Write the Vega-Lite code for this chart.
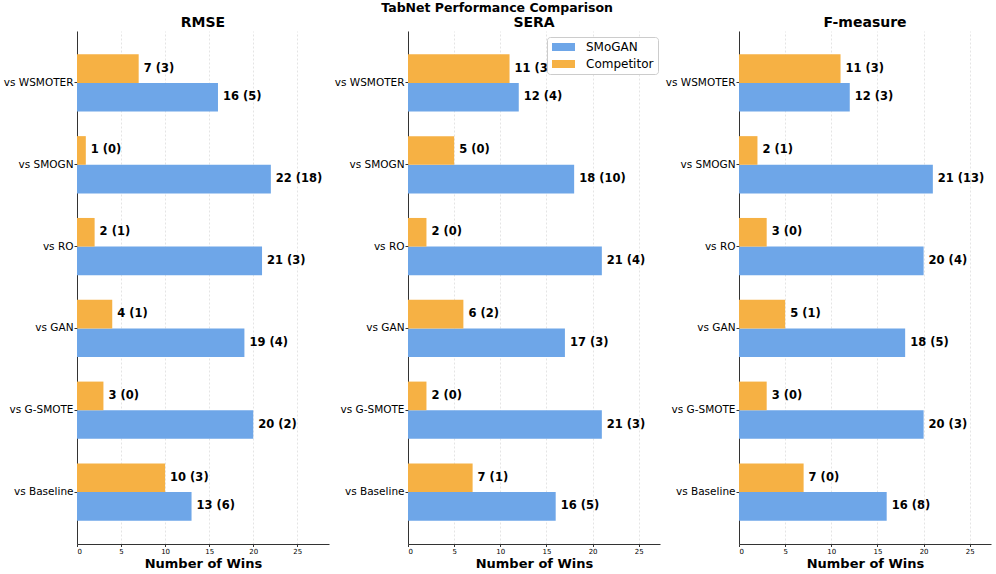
{
  "$schema": "https://vega.github.io/schema/vega-lite/v6.json",
  "padding": {"left": 3, "top": 1, "right": 3, "bottom": 2},
  "background": "white",
  "title": {"text": "TabNet Performance Comparison", "fontSize": 12.5, "font": "DejaVu Sans", "fontWeight": "bold", "anchor": "middle", "offset": 2, "color": "black"},
  "config": {
    "font": "DejaVu Sans",
    "view": {"stroke": null},
    "title": {"fontSize": 14, "fontWeight": "bold", "color": "black", "offset": 1},
    "axisX": {"labelFontSize": 7, "labelColor": "black", "tickSize": 2.5, "tickColor": "#333333", "domainColor": "#333333", "titleFontSize": 13, "titleFontWeight": "bold", "titleColor": "black", "titlePadding": 2.5, "grid": true, "gridColor": "#dddddd", "gridDash": [2, 2], "gridWidth": 0.8, "labelPadding": 1},
    "axisY": {"labelFontSize": 10.5, "labelColor": "black", "tickSize": 3, "tickColor": "#333333", "domainColor": "#333333", "grid": false, "labelPadding": 1}
  },
  "datasets": {
    "wins": [
      {"metric": "RMSE", "comparison": "vs WSMOTER", "method": "SMoGAN", "wins": 16, "label": "16 (5)"},
      {"metric": "RMSE", "comparison": "vs WSMOTER", "method": "Competitor", "wins": 7, "label": "7 (3)"},
      {"metric": "RMSE", "comparison": "vs SMOGN", "method": "SMoGAN", "wins": 22, "label": "22 (18)"},
      {"metric": "RMSE", "comparison": "vs SMOGN", "method": "Competitor", "wins": 1, "label": "1 (0)"},
      {"metric": "RMSE", "comparison": "vs RO", "method": "SMoGAN", "wins": 21, "label": "21 (3)"},
      {"metric": "RMSE", "comparison": "vs RO", "method": "Competitor", "wins": 2, "label": "2 (1)"},
      {"metric": "RMSE", "comparison": "vs GAN", "method": "SMoGAN", "wins": 19, "label": "19 (4)"},
      {"metric": "RMSE", "comparison": "vs GAN", "method": "Competitor", "wins": 4, "label": "4 (1)"},
      {"metric": "RMSE", "comparison": "vs G-SMOTE", "method": "SMoGAN", "wins": 20, "label": "20 (2)"},
      {"metric": "RMSE", "comparison": "vs G-SMOTE", "method": "Competitor", "wins": 3, "label": "3 (0)"},
      {"metric": "RMSE", "comparison": "vs Baseline", "method": "SMoGAN", "wins": 13, "label": "13 (6)"},
      {"metric": "RMSE", "comparison": "vs Baseline", "method": "Competitor", "wins": 10, "label": "10 (3)"},
      {"metric": "SERA", "comparison": "vs WSMOTER", "method": "SMoGAN", "wins": 12, "label": "12 (4)"},
      {"metric": "SERA", "comparison": "vs WSMOTER", "method": "Competitor", "wins": 11, "label": "11 (3)"},
      {"metric": "SERA", "comparison": "vs SMOGN", "method": "SMoGAN", "wins": 18, "label": "18 (10)"},
      {"metric": "SERA", "comparison": "vs SMOGN", "method": "Competitor", "wins": 5, "label": "5 (0)"},
      {"metric": "SERA", "comparison": "vs RO", "method": "SMoGAN", "wins": 21, "label": "21 (4)"},
      {"metric": "SERA", "comparison": "vs RO", "method": "Competitor", "wins": 2, "label": "2 (0)"},
      {"metric": "SERA", "comparison": "vs GAN", "method": "SMoGAN", "wins": 17, "label": "17 (3)"},
      {"metric": "SERA", "comparison": "vs GAN", "method": "Competitor", "wins": 6, "label": "6 (2)"},
      {"metric": "SERA", "comparison": "vs G-SMOTE", "method": "SMoGAN", "wins": 21, "label": "21 (3)"},
      {"metric": "SERA", "comparison": "vs G-SMOTE", "method": "Competitor", "wins": 2, "label": "2 (0)"},
      {"metric": "SERA", "comparison": "vs Baseline", "method": "SMoGAN", "wins": 16, "label": "16 (5)"},
      {"metric": "SERA", "comparison": "vs Baseline", "method": "Competitor", "wins": 7, "label": "7 (1)"},
      {"metric": "F-measure", "comparison": "vs WSMOTER", "method": "SMoGAN", "wins": 12, "label": "12 (3)"},
      {"metric": "F-measure", "comparison": "vs WSMOTER", "method": "Competitor", "wins": 11, "label": "11 (3)"},
      {"metric": "F-measure", "comparison": "vs SMOGN", "method": "SMoGAN", "wins": 21, "label": "21 (13)"},
      {"metric": "F-measure", "comparison": "vs SMOGN", "method": "Competitor", "wins": 2, "label": "2 (1)"},
      {"metric": "F-measure", "comparison": "vs RO", "method": "SMoGAN", "wins": 20, "label": "20 (4)"},
      {"metric": "F-measure", "comparison": "vs RO", "method": "Competitor", "wins": 3, "label": "3 (0)"},
      {"metric": "F-measure", "comparison": "vs GAN", "method": "SMoGAN", "wins": 18, "label": "18 (5)"},
      {"metric": "F-measure", "comparison": "vs GAN", "method": "Competitor", "wins": 5, "label": "5 (1)"},
      {"metric": "F-measure", "comparison": "vs G-SMOTE", "method": "SMoGAN", "wins": 20, "label": "20 (3)"},
      {"metric": "F-measure", "comparison": "vs G-SMOTE", "method": "Competitor", "wins": 3, "label": "3 (0)"},
      {"metric": "F-measure", "comparison": "vs Baseline", "method": "SMoGAN", "wins": 16, "label": "16 (8)"},
      {"metric": "F-measure", "comparison": "vs Baseline", "method": "Competitor", "wins": 7, "label": "7 (0)"}
    ]
  },
  "data": {"name": "wins"},
  "spacing": 5,
  "resolve": {"scale": {"x": "independent"}, "legend": {"color": "independent"}},
  "hconcat": [
    {
      "width": 252, "height": 513,
      "title": {"text": "RMSE"},
      "transform": [{"filter": "datum.metric === 'RMSE'"}],
      "encoding": {
        "y": {"field": "comparison", "type": "nominal", "sort": ["vs WSMOTER", "vs SMOGN", "vs RO", "vs GAN", "vs G-SMOTE", "vs Baseline"], "scale": {"paddingInner": 0, "paddingOuter": 0.135}, "axis": {"title": null}},
        "yOffset": {"field": "method", "type": "nominal", "sort": ["Competitor", "SMoGAN"], "scale": {"paddingInner": 0, "paddingOuter": 0.4286}},
        "x": {"field": "wins", "type": "quantitative", "scale": {"domain": [0, 28.6], "nice": false}, "axis": {"title": "Number of Wins", "values": [0, 5, 10, 15, 20, 25]}}
      },
      "layer": [
        {"mark": {"type": "bar"}, "encoding": {"color": {"field": "method", "type": "nominal", "scale": {"domain": ["SMoGAN", "Competitor"], "range": ["#6EA6E8", "#F6B144"]}, "legend": null}}},
        {"mark": {"type": "text", "align": "left", "baseline": "middle", "dx": 5, "fontSize": 11.5, "fontWeight": "bold", "color": "black"}, "encoding": {"text": {"field": "label"}}}
      ]
    },
    {
      "width": 252, "height": 513,
      "title": {"text": "SERA"},
      "transform": [{"filter": "datum.metric === 'SERA'"}],
      "encoding": {
        "y": {"field": "comparison", "type": "nominal", "sort": ["vs WSMOTER", "vs SMOGN", "vs RO", "vs GAN", "vs G-SMOTE", "vs Baseline"], "scale": {"paddingInner": 0, "paddingOuter": 0.135}, "axis": {"title": null}},
        "yOffset": {"field": "method", "type": "nominal", "sort": ["Competitor", "SMoGAN"], "scale": {"paddingInner": 0, "paddingOuter": 0.4286}},
        "x": {"field": "wins", "type": "quantitative", "scale": {"domain": [0, 27.3], "nice": false}, "axis": {"title": "Number of Wins", "values": [0, 5, 10, 15, 20, 25]}}
      },
      "layer": [
        {"mark": {"type": "text", "align": "left", "baseline": "middle", "dx": 5, "fontSize": 11.5, "fontWeight": "bold", "color": "black"}, "encoding": {"text": {"field": "label"}}},
        {"mark": {"type": "bar"}, "encoding": {"color": {"field": "method", "type": "nominal", "scale": {"domain": ["SMoGAN", "Competitor"], "range": ["#6EA6E8", "#F6B144"]}, "legend": {"title": null, "orient": "none", "legendX": 139, "legendY": 6, "symbolType": "M-1,-0.8L3.6,-0.8L3.6,0.8L-1,0.8Z", "symbolSize": 100, "symbolStrokeWidth": 0, "labelFontSize": 12, "labelColor": "black", "labelOffset": 23, "fillColor": "white", "strokeColor": "#cccccc", "cornerRadius": 3, "padding": 4, "rowPadding": 5}}}}
      ]
    },
    {
      "width": 252, "height": 513,
      "title": {"text": "F-measure"},
      "transform": [{"filter": "datum.metric === 'F-measure'"}],
      "encoding": {
        "y": {"field": "comparison", "type": "nominal", "sort": ["vs WSMOTER", "vs SMOGN", "vs RO", "vs GAN", "vs G-SMOTE", "vs Baseline"], "scale": {"paddingInner": 0, "paddingOuter": 0.135}, "axis": {"title": null}},
        "yOffset": {"field": "method", "type": "nominal", "sort": ["Competitor", "SMoGAN"], "scale": {"paddingInner": 0, "paddingOuter": 0.4286}},
        "x": {"field": "wins", "type": "quantitative", "scale": {"domain": [0, 27.3], "nice": false}, "axis": {"title": "Number of Wins", "values": [0, 5, 10, 15, 20, 25]}}
      },
      "layer": [
        {"mark": {"type": "bar"}, "encoding": {"color": {"field": "method", "type": "nominal", "scale": {"domain": ["SMoGAN", "Competitor"], "range": ["#6EA6E8", "#F6B144"]}, "legend": null}}},
        {"mark": {"type": "text", "align": "left", "baseline": "middle", "dx": 5, "fontSize": 11.5, "fontWeight": "bold", "color": "black"}, "encoding": {"text": {"field": "label"}}}
      ]
    }
  ]
}
